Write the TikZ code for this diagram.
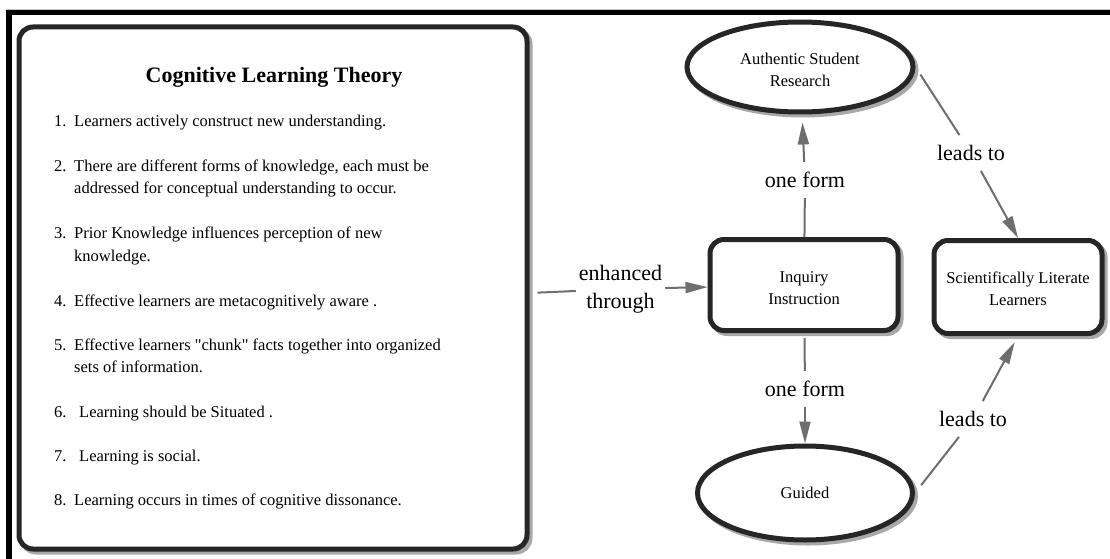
\documentclass[tikz,border=0pt]{standalone}
\usepackage{fontspec}
\setmainfont{Liberation Serif}
\newfontfamily\plainserif{Liberation Serif}
\usetikzlibrary{shapes.geometric,arrows.meta,shadows}
\definecolor{bord}{HTML}{262626}
\definecolor{shad}{HTML}{A8A8A8}
\definecolor{edgec}{HTML}{6E6E6E}
\newcommand{\twoline}[3]{\raisebox{#3}[\height][\depth]{\begin{tabular}{@{}c@{}}#1\\#2\end{tabular}}}
\begin{document}
\begin{tikzpicture}[x=1pt,y=-1pt,
  shad/.style={general shadow={draw=shad, line width=5pt, shadow xshift=3pt, shadow yshift=-3pt}},
  box/.style={shad, draw=bord, line width=5pt, fill=white, rounded corners=14pt, inner sep=0pt, font=\fontsize{16.5}{22}\selectfont},
  oval/.style={shad, ellipse, draw=bord, line width=5pt, fill=white, inner sep=0pt, font=\fontsize{16.5}{22}\selectfont},
  item/.style={font=\fontsize{16.5}{22}\selectfont, anchor=base west, inner sep=0pt},
  lab/.style={font=\fontsize{22}{28}\selectfont, align=center, inner xsep=3pt, inner ysep=10pt},
  edge/.style={draw=edgec, line width=2pt},
  arr/.style={edge, -{Triangle[length=22pt,width=11pt]}}
]
\useasboundingbox (0,0) rectangle (1110,559);
\fill[white] (0,0) rectangle (1110,559);
% frame
\draw[gray!45, line width=1pt] (6,9.5) -- (1110,9.5);
\fill[black] (6,10) rectangle (1110,15.5);
\fill[black] (6,10) rectangle (11.5,559);

% left box
\node[box, minimum width=508, minimum height=522] (lb) at (273,288) {};
\node[anchor=base, inner sep=0pt, font=\bfseries\fontsize{22}{26}\selectfont] (title) at (274,83) {Cognitive Learning Theory};
\node[item] (n1) at (54,127) {1.};
\node[item] (t1) at (74,127) {Learners actively construct new understanding.};
\node[item] (n2) at (54,171) {2.};
\node[item] (t2a) at (74,171) {There are different forms of knowledge, each must be};
\node[item] (t2b) at (74,193) {addressed for conceptual understanding to occur.};
\node[item] (n3) at (54,238) {3.};
\node[item] (t3a) at (74,238) {Prior Knowledge influences perception of new};
\node[item] (t3b) at (74,261) {knowledge.};
\node[item] (n4) at (54,306) {4.};
\node[item] (t4) at (74,306) {Effective learners are metacognitively aware .};
\node[item] (n5) at (54,350) {5.};
\node[item] (t5a) at (74,350) {\plainserif Effective learners "chunk" facts together into organized};
\node[item] (t5b) at (74,372) {sets of information.};
\node[item] (n6) at (54,417) {6.};
\node[item] (t6) at (79,417) {Learning should be Situated .};
\node[item] (n7) at (54,461) {7.};
\node[item] (t7) at (79,461) {Learning is social.};
\node[item] (n8) at (54,505) {8.};
\node[item] (t8) at (74,505) {Learning occurs in times of cognitive dissonance.};

% right nodes
\node[oval, minimum width=226, minimum height=90] (asr) at (800,67) {\twoline{Authentic Student}{Research}{-4pt}};
\node[box, minimum width=188, minimum height=91] (inq) at (804,285) {\twoline{Inquiry}{Instruction}{-4pt}};
\node[box, minimum width=168, minimum height=93] (sci) at (1018,287) {\twoline{Scientifically Literate}{Learners}{-3pt}};
\node[oval, minimum width=215, minimum height=94] (gd) at (805,493) {Guided};

% labels
\node[lab] (enh) at (620.5,289) {enhanced\\through};
\node[lab] (of1) at (805,180) {one form};
\node[lab] (of2) at (805,389) {one form};
\node[lab] (lt1) at (971,153) {leads to};
\node[lab] (lt2) at (973,419) {leads to};

% connectors
\draw[edge, shorten <=8pt] ([yshift=-5pt]lb.east) -- (enh);
\draw[arr] (enh) -- (inq);
\draw[edge] (inq) -- (of1);
\draw[arr, shorten >=8pt] (of1) -- (asr);
\draw[edge, shorten <=5pt] (inq) -- (of2);
\draw[arr] (of2) -- (gd);
\draw[edge, shorten <=9pt] (asr.east) -- (lt1);
\draw[arr] (lt1) -- (sci.north);
\draw[edge, shorten <=10pt] (gd.east) -- (lt2);
\draw[arr, shorten >=7pt] (lt2) -- (sci.south);
\end{tikzpicture}
\end{document}
